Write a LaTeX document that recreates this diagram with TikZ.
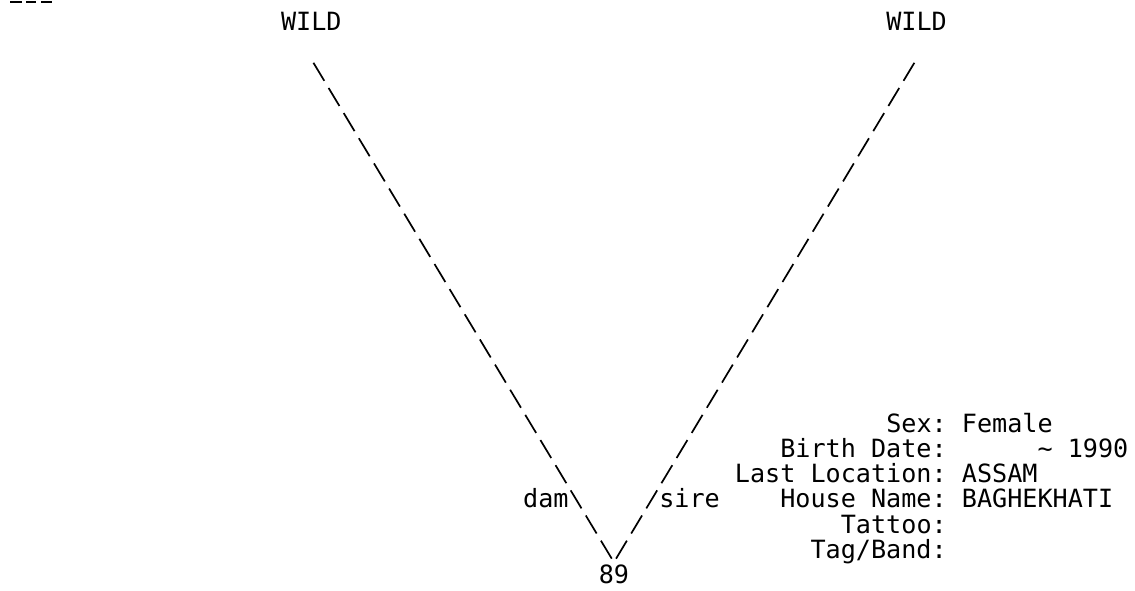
\documentclass[tikz,border=0pt]{standalone}
\usepackage{fontspec}
\setmonofont{DejaVu Sans Mono}
\newcommand{\colx}[1]{8.7+#1*15.13}
\newcommand{\rowb}[1]{30+#1*25.15}
\begin{document}
\begin{tikzpicture}[x=1pt,y=-1pt,
  txt/.style={anchor=base west,inner sep=0pt,outer sep=0pt,
    font=\ttfamily\fontsize{25.13pt}{25.15pt}\selectfont,text=black},
  ascii/.style={line width=1.7pt,dash pattern=on 21pt off 8.35pt,line cap=butt,black},
  topdash/.style={line width=2pt,black}]
\useasboundingbox[fill=white] (0,0) rectangle (1135,590);
% clipped remnant of the line above
\draw[topdash] (10,2) -- (22,2);
\draw[topdash] (26,2) -- (36,2);
\draw[topdash] (41,2) -- (52,2);
% parents
\node[txt] (wildL) at ({\colx{18}},{\rowb{0}}) {WILD};
\node[txt] (wildR) at ({\colx{58}},{\rowb{0}}) {WILD};
% offspring
\node[txt] (n89) at ({\colx{39}},{\rowb{22}}) {89};
% connector ends
\coordinate (damTop) at (313.46,62.8);
\coordinate (damEnd) at (611.75,558.65);
\coordinate (sireTop) at (914.35,62.8);
\coordinate (sireEnd) at (616.06,558.65);
\draw[ascii] (damTop) -- (damEnd);
\draw[ascii] (sireTop) -- (sireEnd);
\node[txt] (dam) at ({\colx{34}},{\rowb{19}}) {dam};
\node[txt] (sire) at ({\colx{43}},{\rowb{19}}) {sire};
% information block
\node[txt] (sexL) at ({\colx{58}},{\rowb{16}}) {Sex:};
\node[txt] (sexV) at ({\colx{63}},{\rowb{16}}) {Female};
\node[txt] (bdL) at ({\colx{51}},{\rowb{17}}) {Birth Date:};
\node[txt] (bdV) at ({\colx{68}},{\rowb{17}}) {\char`\~};
\node[txt] (bdY) at ({\colx{70}},{\rowb{17}}) {1990};
\node[txt] (locL) at ({\colx{48}},{\rowb{18}}) {Last Location:};
\node[txt] (locV) at ({\colx{63}},{\rowb{18}}) {ASSAM};
\node[txt] (hnL) at ({\colx{51}},{\rowb{19}}) {House Name:};
\node[txt] (hnV) at ({\colx{63}},{\rowb{19}}) {BAGHEKHATI};
\node[txt] (tatL) at ({\colx{55}},{\rowb{20}}) {Tattoo:};
\node[txt] (tagL) at ({\colx{53}},{\rowb{21}}) {Tag/Band:};
\end{tikzpicture}
\end{document}
